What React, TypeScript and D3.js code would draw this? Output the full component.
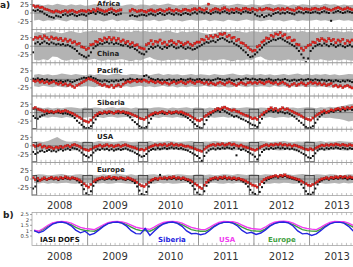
import React from 'react';
import * as d3 from 'd3';

const W = 353;
const H = 267;

// Semi-monthly CO anomalies (%), Jan 2008 .. Oct 2013 (red = model, black = IASI)
const africaRed = [
  22, 18, 20, 16, 17, 12, 10, 8, 5, 3, 6, 4, 2, 5, 7, 3, 6, 8, 4, 2, 5, 7, 6, 4,
  8, 5, 10, 6, 12, 9, 7, 4, 6, 10, 12, 8, 5, 7, 9, null, null, null, 6, 11, 8, 4, 6, 8,
  5, 3, 7, 9, 6, 4, 8, 10, 7, 5, 9, 12, 8, 6, 10, 7, 5, 9, 11, 8, 6, 10, 12, 9,
  14, 10, 8, 12, 26, 6, 10, 13, 11, 8, 12, 15, 10, 7, 11, 9, 13, 10, 8, 12, 14, 11, 9, 13,
  10, 8, 12, 9, 11, 14, 12, 10, 8, 11, 13, 9, 12, 10, 14, 11, 9, 7, 12, 15, 13, 10, 12, 11,
  9, 12, 14, 11, 10, 13, 15, 12, 10, 8, 11, 14, 16, 13, 10, 12, 15, 12, 10, 13,
];
const africaBlack = [
  8, 6, 9, 5, 4, -2, -6, -10, -12, -14, -8, -10, -12, -6, -4, -8, -5, -3, -7, -9, -6, -4, -5, -8,
  -2, 0, 2, -3, 4, 1, -2, -5, -4, 0, 2, -3, -6, -4, -2, null, null, null, -8, -6, -9, -10, -7, -5,
  -6, -8, -4, -2, -5, -7, -3, 0, -4, -6, -2, 1, -3, -5, -1, -4, -6, -2, 0, -3, -5, -1, 2, -2,
  4, 2, -1, 3, 0, -3, 1, 4, 2, -1, 3, 5, 1, -2, 2, 0, 4, 1, -2, 3, 5, 2, 0, 4,
  -4, -8, -10, -6, -12, -9, -5, -8, -3, 0, 2, -2, 1, -1, 3, 0, -2, -4, 1, 4, 2, -1, 3, 2,
  0, 2, 4, 1, -1, 3, 5, 2, 0, -23, 1, 4, 6, 3, 0, 2, 5, 3, 1, 4,
];
const chinaRed = [
  20, 26, 24, 28, 22, 30, 25, 20, 27, 22, 24, 19, 23, 16, 21, 14, 18, 10, 13, 6, 8, -2, -4, -10,
  -6, 4, 6, 14, 12, 20, 16, 24, 20, 26, 19, 24, 17, 22, 14, 18, 10, 14, 6, 10, 2, 4, -4, -6,
  -8, 4, 8, 16, 6, 14, 12, 18, 8, 12, 4, 14, 16, 10, 6, 14, 10, 4, 8, 12, 6, 2, 8, 12,
  12, 20, 18, 28, 22, 30, 26, 32, 28, 36, 34, 38, 28, 32, 24, 26, 16, 20, 10, 8, 2, -4, -10, -14,
  -12, -2, 2, 12, 16, 24, 22, 32, 28, 36, 34, 40, 30, 34, 24, 26, 16, 18, 6, 4, -6, -12, -4, 2,
  4, 12, 10, 20, 16, 22, 18, 14, 22, 16, 20, 10, 18, 14, 20, 8, 16, 12, 18, 14,
];
const chinaBlack = [
  -18, 8, 12, 6, 10, 14, 9, 6, 11, 8, 5, 7, 4, 6, 2, 4, 0, -4, -8, -14, -22, -26, -30, -33,
  -28, -18, -6, 0, 4, 8, 6, 10, 12, 8, 11, 6, 9, 7, 4, 2, 6, 0, -4, -2, -8, -12, -18, -22,
  -24, -16, -8, -2, -6, -2, 2, -4, -8, -2, -5, 0, 4, -2, -6, -4, 0, -4, -8, -4, -6, -10, -8, -4,
  0, 4, 8, 12, 10, 14, 16, 12, 18, 22, 24, 20, 16, 12, 14, 8, 4, 0, -6, -12, -18, -26, -32, -30,
  -24, -18, -10, -4, 4, 8, 12, 16, 20, 18, 22, 24, 20, 16, 12, 8, 4, 0, -6, -14, -24, -34, -47, -36,
  -14, -6, 0, 4, 6, 2, 8, 4, 0, 6, 3, -2, 2, 5, 0, -3, 1, 4, -1, 2,
];
const pacificRed = [
  -4, -6, -3, -8, -5, -10, -7, -12, -9, -6, -11, -14, -10, -16, -13, -18, -15, -20, -24, -18, -14, -10, -6, -2,
  2, 0, -3, -6, -10, -14, -18, -15, -20, -22, -17, -24, -19, -16, -21, -14, -10, -6, -8, -5, -3, -7, -4, -6,
  -2, -5, -8, -4, -7, -10, -6, -9, -12, -8, -11, -14, -10, -7, -12, -9, -6, -10, -13, -8, -5, -9, -12, -7,
  -6, -9, -12, -8, -14, -10, -13, -16, -11, -8, -12, -15, -10, -7, -11, -14, -18, -13, -9, -12, -15, -10, -8, -12,
  -9, -12, -7, -10, -13, -8, -6, -10, -12, -9, -14, -11, -8, -12, -16, -20, -15, -12, -18, -14, -10, -13, -17, -12,
  -8, -12, -10, -14, -11, -16, -13, -18, -15, -12, -20, -17, -22, -19, -24, -20, -18, -22, -25, -21,
];
const pacificBlack = [
  2, 0, 3, -1, 1, -2, 0, -4, -2, -5, -3, -6, -4, -7, -5, -3, -6, -8, -5, -2, 0, 3, 5, 4,
  6, 8, 4, 2, -2, -4, -6, -3, -5, -7, -4, -6, -3, -5, -2, 0, -3, -1, 2, 0, -2, 1, -1, 0,
  10, 12, 6, 2, 0, -2, 1, -3, -1, -4, -2, 0, -3, -1, -4, -2, 1, -1, -3, 0, 2, -1, -3, 0,
  1, -2, 0, -3, -1, -4, -2, 0, 3, 1, -1, -3, 0, 2, -2, -4, -1, 1, -2, 0, 3, 1, -1, 2,
  0, -2, 1, -1, -3, 0, 2, -1, -4, -2, 0, -3, -1, 1, -2, -5, -3, -1, -4, -2, 0, -3, -1, 1,
  -1, -3, 0, -2, -4, -1, -3, -5, -2, -4, -6, -3, -5, -7, -4, -6, -3, -5, -8, -4,
];
const siberiaRed = [
  12, 15, 10, 8, 6, 3, 5, 2, 4, 1, 3, 5, 2, 4, 6, 3, 0, -2, -6, -10, -14, -18, -24, -26,
  -28, -22, -14, -8, -4, 0, -2, 2, 0, 3, 1, -2, 2, 4, 1, 3, 0, -1, -3, -6, -9, -12, -16, -18,
  -20, -15, -10, -6, -3, 0, -2, 1, 3, 0, -3, 2, -1, 1, 3, 0, 2, -1, -4, -6, -10, -14, -18, -22,
  -24, -20, -12, -8, -4, 0, 4, 8, 12, 10, 14, 16, 12, 9, 6, 8, 4, 2, -2, -5, -8, -10, -14, -18,
  -16, -20, -12, -6, 0, 4, 10, 14, 8, 12, 6, 10, 14, 9, 11, 7, 4, 0, -3, -6, -10, -14, -18, -20,
  -22, -16, -10, -6, -2, 2, 5, 0, 4, 8, 6, 10, 12, 9, 14, 11, 15, 12, 16, 13,
];
const siberiaBlack = [
  -10, -16, -18, -12, -8, -6, -3, -1, 0, -2, 1, 0, -1, -3, -2, -4, -6, -10, -16, -24, -30, -36, -42, -46,
  -45, -40, -30, -20, -10, -4, -2, 0, -3, -1, 2, -1, 0, -2, 1, -1, -4, -8, -14, -22, -28, -34, -40, -44,
  -46, -42, -30, -18, -8, -4, -2, 0, -2, -4, -1, 0, -3, -2, 0, -3, -5, -8, -12, -16, -22, -28, -34, -40,
  -44, -46, -34, -22, -12, -6, 0, 4, 6, 2, 8, 4, 0, -4, -8, -12, -10, -14, -18, -20, -24, -28, -32, -36,
  -38, -42, -30, -18, -6, 0, 4, 6, 2, 5, 0, 3, 1, -2, 0, -4, -8, -12, -18, -24, -30, -36, -42, -46,
  -44, -40, -30, -20, -12, -6, -2, 2, 0, 4, 2, 6, 8, 4, 10, 6, 9, 12, 8, 10,
];
const usaRed = [
  2, -2, 0, 3, -4, -1, -6, -3, -5, -8, -4, -6, -2, -5, -1, 1, -3, 2, 4, 1, -2, -6, -10, -12,
  -14, -10, -6, -3, -1, 2, -2, 0, 3, -1, 1, -3, 0, 2, -2, 1, 3, 0, -2, -4, -6, -9, -12, -10,
  -13, -9, -5, -2, 0, 3, 1, 4, 2, 5, 0, 3, 6, 2, 4, 1, 3, 0, -2, -1, -4, -6, -9, -12,
  -14, -16, -10, -5, -1, 2, 4, 1, 5, 3, 6, 2, 4, 7, 3, 5, 1, -1, 2, -2, -4, -6, -9, -11,
  -13, -10, -6, -2, 1, 3, 0, 4, 2, 5, 3, 6, 2, 4, 1, 3, -1, 2, 0, -3, -5, -8, -10, -12,
  -9, -12, -7, -4, -1, 2, 0, 3, 1, 4, 2, 5, 3, 1, 4, 2, 0, 3, 1, -1,
];
const usaBlack = [
  -18, -24, -20, -16, -14, -18, -15, -12, -16, -14, -17, -13, -10, -14, -11, -8, -12, -6, -8, -10, -14, -20, -26, -30,
  -34, -28, -20, -14, -10, -12, -8, -11, -9, -13, -10, -14, -11, -9, -12, -10, -8, -11, -14, -16, -20, -24, -28, -32,
  -30, -24, -16, -12, -9, -11, -7, -10, -8, -6, -9, -7, -5, -8, -6, -9, -7, -10, -12, -14, -18, -22, -26, -30,
  -36, -44, -30, -20, -14, -10, -8, -11, -7, -9, -6, -8, -5, -7, -9, -6, -28, -8, -12, -10, -14, -18, -22, -26,
  -32, -40, -28, -18, -12, -8, -10, -6, -9, -7, -5, -8, -6, -9, -7, -10, -8, -11, -13, -16, -20, -24, -28, -34,
  -36, -30, -22, -14, -10, -8, -11, -7, -9, -6, -8, -5, -7, -9, -6, -8, -10, -7, -9, -11,
];
const europeRed = [
  4, -2, 2, -4, 0, 3, -1, 2, 5, 1, 3, 0, 4, 2, 6, 3, 1, 4, 2, 0, -3, -8, -14, -20,
  -24, -16, -8, -3, 0, 2, 4, 1, 3, 6, 2, 5, 3, 1, 4, 2, 0, 3, 1, -2, -5, -10, -16, -20,
  -22, -16, -10, -4, -1, 2, 0, 3, 1, 4, 2, 5, 3, 6, 2, 4, 1, 3, 0, -2, -4, -8, -14, -18,
  -24, -28, -18, -10, -4, 0, 2, 4, 1, 5, 3, 6, 2, 4, 1, 3, 0, 2, -1, -3, -6, -10, -14, -18,
  -20, -24, -16, -8, -2, 2, 4, 6, 8, 10, 7, 11, 9, 12, 8, 6, 4, 2, 0, -2, -6, -10, -14, -18,
  -20, -16, -12, -8, -3, 0, 2, 4, 1, 5, 3, 6, 4, 8, 5, 7, 3, 6, 4, 7,
];
const europeBlack = [
  -28, -22, -6, -3, -1, 1, -2, 0, 2, -1, 1, -3, 2, 0, 3, 1, -1, 2, 0, -4, -10, -18, -30, -42,
  -48, -36, -20, -10, -4, -1, 1, -2, 0, 2, -1, 1, -2, 0, 2, -1, -3, 0, -2, -6, -12, -22, -34, -44,
  -48, -38, -22, -10, -4, -1, -2, 12, 0, 1, -1, 2, 0, 3, -1, 1, -2, 0, -3, -6, -12, -20, -30, -40,
  -46, -50, -36, -20, -10, -4, -1, 1, -2, 2, 0, 3, -1, 1, -2, 0, -3, -1, -4, -8, -14, -22, -32, -40,
  -44, -50, -38, -24, -12, -4, 0, 3, 5, 7, 4, 8, 6, 9, 5, 3, 1, -1, -3, -8, -16, -26, -36, -44,
  -46, -40, -28, -16, -8, -4, -1, 1, -2, 2, 0, 3, 1, 4, 2, 3, -1, 2, 0, 3,
];

// Monthly spread envelope (%), Jan 2008 .. Dec 2013
const africaHi = [
  24, 26, 22, 25, 23, 27, 24, 22, 26, 23, 25, 21, 23, 26, 24, 22, 25, 27, 23, 21, 24, 26, 22, 25,
  24, 22, 26, 23, 25, 28, 24, 22, 25, 23, 26, 24, 22, 25, 27, 24, 23, 26, 22, 24, 27, 25, 23, 26,
  24, 22, 25, 27, 23, 26, 24, 21, 25, 23, 26, 24, 22, 25, 23, 27, 24, 26, 22, 25, 23, 24, 26, 23,
];
const africaLo = [
  -22, -20, -24, -21, -23, -19, -22, -25, -20, -23, -21, -24, -20, -23, -21, -25, -22, -19, -24, -21, -23, -20, -22, -24,
  -21, -23, -20, -24, -22, -19, -23, -21, -25, -22, -20, -23, -22, -20, -24, -21, -23, -25, -20, -22, -24, -21, -19, -23,
  -21, -24, -22, -20, -23, -21, -25, -22, -20, -24, -21, -23, -22, -20, -23, -21, -24, -22, -20, -23, -21, -24, -22, -20,
];
const chinaHi = [
  40, 42, 38, 41, 44, 40, 38, 42, 45, 41, 39, 43, 44, 46, 42, 40, 45, 47, 43, 41, 44, 42, 46, 43,
  45, 42, 44, 40, 43, 46, 42, 39, 44, 41, 43, 45, 40, 37, 36, 38, 42, 44, 41, 43, 45, 42, 40, 44,
  43, 41, 45, 42, 44, 46, 43, 40, 44, 42, 45, 41, 43, 40, 44, 46, 42, 45, 43, 41, 44, 42, 40, 43,
];
const chinaLo = [
  -40, -42, -38, -41, -30, -32, -40, -43, -39, -41, -38, -42, -40, -37, -41, -43, -39, -42, -40, -38, -41, -44, -40, -42,
  -36, -32, -38, -41, -43, -40, -42, -39, -41, -38, -42, -40, -41, -43, -39, -42, -40, -38, -41, -44, -40, -42, -39, -41,
  -33, -30, -38, -42, -40, -43, -41, -39, -42, -40, -43, -41, -40, -42, -38, -41, -43, -40, -42, -39, -41, -43, -40, -42,
];
const pacificHi = [
  14, 16, 13, 15, 12, 14, 17, 15, 13, 16, 14, 12, 15, 13, 16, 14, 12, 15, 17, 14, 13, 16, 15, 13,
  14, 12, 15, 17, 13, 16, 14, 15, 12, 14, 16, 13, 15, 14, 12, 16, 14, 13, 15, 17, 14, 12, 15, 13,
  14, 16, 13, 15, 12, 14, 16, 13, 15, 17, 14, 16, 13, 15, 14, 16, 13, 15, 12, 14, 16, 15, 13, 14,
];
const pacificLo = [
  -20, -22, -19, -21, -23, -20, -22, -24, -21, -19, -22, -20, -21, -23, -20, -22, -19, -21, -24, -22, -20, -23, -21, -19,
  -22, -20, -23, -21, -19, -22, -20, -24, -21, -23, -20, -22, -21, -19, -22, -20, -23, -21, -24, -22, -19, -21, -23, -20,
  -22, -20, -21, -23, -19, -22, -20, -24, -21, -22, -20, -23, -21, -23, -20, -22, -24, -21, -23, -20, -22, -24, -21, -23,
];
const siberiaHi = [
  14, 16, 13, 15, 12, 14, 13, 15, 16, 14, 12, 15, 13, 15, 14, 12, 14, 16, 13, 15, 14, 12, 15, 13,
  14, 13, 15, 16, 14, 12, 15, 13, 14, 16, 13, 15, 14, 12, 15, 13, 16, 14, 12, 15, 13, 14, 16, 14,
  13, 15, 14, 12, 15, 13, 16, 14, 15, 13, 14, 16, 15, 13, 16, 14, 17, 15, 18, 20, 24, 26, 22, 20,
];
const siberiaLo = [
  -14, -16, -13, -15, -12, -14, -16, -13, -15, -14, -12, -15, -13, -15, -14, -16, -13, -12, -15, -14, -13, -16, -14, -12,
  -15, -13, -14, -16, -12, -14, -15, -13, -16, -14, -13, -15, -14, -16, -13, -15, -14, -12, -15, -13, -16, -14, -15, -13,
  -14, -12, -15, -13, -16, -14, -13, -15, -12, -14, -16, -14, -13, -15, -14, -16, -15, -17, -19, -22, -26, -24, -20, -18,
];
const usaHi = [
  12, 13, 11, 14, 20, 26, 18, 13, 12, 14, 11, 13, 12, 11, 14, 12, 13, 11, 12, 14, 13, 11, 12, 13,
  12, 14, 11, 13, 12, 14, 13, 11, 12, 13, 14, 12, 11, 13, 12, 14, 13, 11, 12, 14, 13, 12, 11, 13,
  12, 14, 13, 11, 12, 13, 14, 12, 11, 13, 12, 14, 13, 12, 14, 11, 13, 12, 14, 13, 12, 11, 13, 12,
];
const usaLo = [
  -12, -13, -11, -14, -12, -13, -11, -12, -14, -13, -11, -12, -13, -12, -14, -11, -13, -12, -14, -13, -11, -12, -14, -13,
  -12, -11, -13, -14, -12, -13, -11, -12, -14, -13, -12, -11, -13, -12, -14, -11, -13, -12, -11, -14, -12, -13, -11, -12,
  -14, -12, -13, -11, -12, -14, -13, -11, -12, -13, -14, -12, -11, -13, -12, -14, -13, -11, -12, -14, -13, -12, -11, -13,
];
const europeHi = [
  12, 14, 13, 11, 12, 13, 15, 12, 11, 13, 14, 12, 13, 12, 11, 14, 12, 13, 15, 13, 12, 14, 11, 13,
  12, 13, 14, 12, 11, 13, 12, 14, 13, 12, 11, 13, 14, 12, 13, 11, 12, 14, 13, 12, 15, 13, 12, 14,
  13, 12, 14, 13, 12, 11, 13, 14, 12, 13, 15, 13, 12, 14, 13, 12, 14, 13, 11, 12, 14, 13, 12, 13,
];
const europeLo = [
  -12, -13, -11, -14, -12, -13, -12, -11, -13, -14, -12, -13, -12, -11, -13, -12, -14, -13, -11, -12, -13, -14, -12, -11,
  -13, -12, -14, -11, -13, -12, -14, -13, -12, -11, -13, -12, -14, -13, -12, -11, -13, -14, -12, -13, -11, -12, -14, -13,
  -12, -11, -13, -14, -12, -13, -11, -12, -14, -13, -12, -13, -11, -13, -12, -14, -13, -12, -14, -11, -13, -12, -14, -13,
];

// Monthly IASI degrees of freedom for signal
const dofsUsa = [
  1.05, 0.95, 1.2, 1.5, 1.72, 1.82, 1.85, 1.82, 1.7, 1.5, 1.3, 1.2,
  1.15, 1.1, 1.3, 1.55, 1.75, 1.84, 1.86, 1.82, 1.7, 1.52, 1.32, 1.22,
  1.18, 1.12, 1.32, 1.58, 1.76, 1.84, 1.85, 1.82, 1.7, 1.5, 1.3, 1.2,
  1.12, 1.1, 1.3, 1.56, 1.76, 1.85, 1.84, 1.83, 1.72, 1.52, 1.32, 1.2,
  1.16, 1.12, 1.32, 1.6, 1.78, 1.86, 1.87, 1.83, 1.7, 1.5, 1.3, 1.2,
  1.14, 1.1, 1.3, 1.56, 1.76, 1.85, 1.84, 1.83, 1.7, 1.5, 1.3, 1.2,
];
const dofsEurope = [
  1.02, 0.9, 1.12, 1.42, 1.65, 1.78, 1.8, 1.72, 1.55, 1.3, 1.12, 1.02,
  0.98, 0.95, 1.15, 1.45, 1.68, 1.78, 1.8, 1.74, 1.56, 1.34, 1.12, 1.02,
  1.0, 0.95, 1.15, 1.45, 1.68, 1.78, 1.8, 1.72, 1.55, 1.32, 1.1, 1.0,
  0.95, 0.94, 1.12, 1.45, 1.67, 1.78, 1.79, 1.74, 1.57, 1.34, 1.12, 1.0,
  0.97, 0.95, 1.15, 1.48, 1.7, 1.8, 1.81, 1.75, 1.56, 1.32, 1.1, 1.0,
  0.96, 0.94, 1.14, 1.46, 1.68, 1.79, 1.8, 1.75, 1.56, 1.32, 1.1, 1.0,
];
const dofsSiberia = [
  1.0, 0.8, 0.95, 1.3, 1.6, 1.76, 1.8, 1.7, 1.45, 1.05, 0.8, 0.95,
  0.6, 0.75, 1.05, 1.4, 1.65, 1.77, 1.8, 1.7, 1.42, 1.0, 0.72, 0.7,
  1.2, 0.55, 0.95, 1.35, 1.62, 1.76, 1.8, 1.68, 1.4, 0.98, 0.72, 0.75,
  0.62, 0.72, 1.02, 1.38, 1.64, 1.77, 1.79, 1.7, 1.44, 1.02, 0.75, 0.85,
  0.65, 0.78, 1.05, 1.42, 1.66, 1.78, 1.8, 1.72, 1.44, 0.98, 0.7, 0.75,
  0.55, 0.7, 1.0, 1.36, 1.63, 1.77, 1.79, 1.7, 1.4, 0.98, 0.74, 0.7,
];

const regionNames = ['Africa', 'China', 'Pacific', 'Siberia', 'USA', 'Europe'];
const yearLabels = ['2008', '2009', '2010', '2011', '2012', '2013'];
const anomTicks = [25, 0, -25];
const dofsTicks = [0.5, 1, 1.5, 2, 2.5];

const regions = [
  { red: africaRed, black: africaBlack, hi: africaHi, lo: africaLo, boxes: false, labelDy: 7.5 },
  { red: chinaRed, black: chinaBlack, hi: chinaHi, lo: chinaLo, boxes: false, labelDy: 23.5 },
  { red: pacificRed, black: pacificBlack, hi: pacificHi, lo: pacificLo, boxes: false, labelDy: 7.5 },
  { red: siberiaRed, black: siberiaBlack, hi: siberiaHi, lo: siberiaLo, boxes: true, labelDy: 7 },
  { red: usaRed, black: usaBlack, hi: usaHi, lo: usaLo, boxes: true, labelDy: 7 },
  { red: europeRed, black: europeBlack, hi: europeHi, lo: europeLo, boxes: true, labelDy: 7.5 },
];

const dofsSeries = [
  { name: 'IASI DOFS', values: null as number[] | null, color: '#111', lx: 40 },
  { name: 'Siberia', values: dofsSiberia, color: '#2424e0', lx: 158 },
  { name: 'USA', values: dofsUsa, color: '#f03cf0', lx: 219 },
  { name: 'Europe', values: dofsEurope, color: '#3fa03f', lx: 268 },
];

const pointDate = (i: number) => new Date(2008, Math.floor(i / 2), i % 2 ? 23 : 8);
const monthDate = (m: number) => new Date(2008, m, 15);

const X0 = 32;
const PANEL_TOP = -3.6;
const PANEL_H = 33.2;
const FRAME = '#9a9a9a';

export default function App() {
  const x = d3.scaleTime().domain([new Date(2008, 0, 1), new Date(2014, 0, 1)]).range([X0, 365]);
  const yearLines = d3.timeYear.range(new Date(2009, 0, 1), new Date(2014, 0, 1));
  const winters = d3.timeYear.range(new Date(2008, 0, 1), new Date(2014, 0, 1));
  const months = d3.timeMonth.range(new Date(2008, 1, 1), new Date(2014, 0, 1));
  const yearMid = yearLabels.map((_, k) => x(new Date(2008 + k, 6, 1)));
  const right = 400;

  const monthTicks = (top: number, bottom: number) => (
    <g stroke={FRAME} strokeWidth={0.6}>
      {months.map((m, k) => (
        <g key={k}>
          <line x1={x(m)} x2={x(m)} y1={top} y2={top + 2.6} />
          <line x1={x(m)} x2={x(m)} y1={bottom} y2={bottom - 2.6} />
        </g>
      ))}
    </g>
  );

  const panels = regions.map((r, idx) => {
    const top = PANEL_TOP + idx * PANEL_H;
    const bottom = top + PANEL_H;
    const y = d3.scaleLinear().domain([-48.8, 48.8]).range([bottom, top]);
    const band = d3
      .area<number>()
      .x((_, m) => x(monthDate(m)))
      .y0((_, m) => y(r.lo[m]))
      .y1((d) => y(d));
    const clipId = `clip-${idx}`;
    return (
      <g key={idx}>
        <defs>
          <clipPath id={clipId}>
            <rect x={X0} y={top} width={right - X0} height={PANEL_H} />
          </clipPath>
        </defs>
        <g clipPath={`url(#${clipId})`}>
          <path d={band(r.hi) ?? ''} fill="#b3b3b3" />
          <line x1={X0} x2={right} y1={y(0)} y2={y(0)} stroke="#5a5a5a" strokeWidth={0.6} />
          {yearLines.map((d, k) => (
            <line key={k} x1={x(d)} x2={x(d)} y1={top} y2={bottom} stroke="#8c8c8c" strokeWidth={0.9} />
          ))}
          {r.black.map((v, i) =>
            v == null ? null : (
              <rect key={`b${i}`} x={x(pointDate(i)) - 1} y={y(v) - 1} width={2} height={2} fill="#111" />
            )
          )}
          {r.red.map((v, i) =>
            v == null ? null : (
              <rect
                key={`r${i}`}
                x={x(pointDate(i)) - 1.15}
                y={y(v) - 1.15}
                width={2.3}
                height={2.3}
                fill="#e8231d"
                stroke="#8a0d0a"
                strokeWidth={0.3}
              />
            )
          )}
          {r.boxes &&
            winters.map((d, k) => {
              const x1 = x(d3.timeMonth.offset(d, -1));
              const x2 = x(d3.timeMonth.offset(d, 1));
              return (
                <rect
                  key={`w${k}`}
                  x={x1}
                  y={y(10)}
                  width={x2 - x1}
                  height={y(-47) - y(10)}
                  fill="none"
                  stroke="#333"
                  strokeWidth={0.8}
                />
              );
            })}
        </g>
        <rect x={X0} y={top} width={right - X0} height={PANEL_H} fill="none" stroke={FRAME} strokeWidth={0.7} />
        {monthTicks(top, bottom)}
        {anomTicks.map((t) => (
          <g key={t}>
            <line x1={X0 - 2} x2={X0} y1={y(t)} y2={y(t)} stroke="#666" strokeWidth={0.6} />
            <text x={X0 - 3} y={y(t)} dy="0.35em" textAnchor="end" fontSize={7} fill="#444">
              {t}
            </text>
          </g>
        ))}
        <text x={97} y={top + r.labelDy} dy="0.35em" fontSize={7} fontWeight="bold" fill="#222">
          {regionNames[idx]}
        </text>
      </g>
    );
  });

  // DOFS panel
  const bTop = 212.5;
  const bBottom = 245.5;
  const yb = d3.scaleLinear().domain([-0.38, 2.69]).range([bBottom, bTop]);
  const dofsLine = d3
    .line<number>()
    .x((_, m) => x(monthDate(m)))
    .y((d) => yb(d));

  return (
    <svg
      width={W}
      height={H}
      style={{ position: 'absolute', left: 0, top: 0, background: '#fff', fontFamily: 'DejaVu Sans' }}
    >
      <rect width={W} height={H} fill="#fff" />
      {panels}
      <line x1={X0} x2={X0} y1={0} y2={PANEL_TOP + 6 * PANEL_H} stroke="#777" strokeWidth={0.8} />
      {yearMid.map((cx, k) => (
        <text key={k} x={cx} y={205} dy="0.35em" textAnchor="middle" fontSize={10} fill="#333">
          {yearLabels[k]}
        </text>
      ))}
      <text x={0} y={5} dy="0.35em" fontSize={9} fontWeight="bold" fill="#222">
        a)
      </text>

      <defs>
        <clipPath id="clip-b">
          <rect x={X0} y={bTop} width={right - X0} height={bBottom - bTop} />
        </clipPath>
      </defs>
      <g clipPath="url(#clip-b)">
        {yearLines.map((d, k) => (
          <line key={k} x1={x(d)} x2={x(d)} y1={bTop} y2={bBottom} stroke="#8c8c8c" strokeWidth={0.9} />
        ))}
        {dofsSeries
          .filter((s) => s.values)
          .slice()
          .reverse()
          .map((s) => (
            <path key={s.name} d={dofsLine(s.values as number[]) ?? ''} fill="none" stroke={s.color} strokeWidth={1.4} />
          ))}
      </g>
      <rect x={X0} y={bTop} width={right - X0} height={bBottom - bTop} fill="none" stroke={FRAME} strokeWidth={0.7} />
      {monthTicks(bTop, bBottom)}
      {dofsTicks.map((t) => (
        <g key={t}>
          <line x1={X0 - 2} x2={X0} y1={yb(t)} y2={yb(t)} stroke="#666" strokeWidth={0.6} />
          <text x={X0 - 3} y={yb(t)} dy="0.35em" textAnchor="end" fontSize={5.3} fill="#444">
            {t}
          </text>
        </g>
      ))}
      {dofsSeries.map((s) => (
        <text key={s.name} x={s.lx} y={240} dy="0.35em" fontSize={7} fontWeight="bold" fill={s.color}>
          {s.name}
        </text>
      ))}
      <text x={3} y={215} dy="0.35em" fontSize={9} fontWeight="bold" fill="#222">
        b)
      </text>
      {yearMid.map((cx, k) => (
        <text key={k} x={cx} y={256} dy="0.35em" textAnchor="middle" fontSize={10} fill="#333">
          {yearLabels[k]}
        </text>
      ))}
    </svg>
  );
}
